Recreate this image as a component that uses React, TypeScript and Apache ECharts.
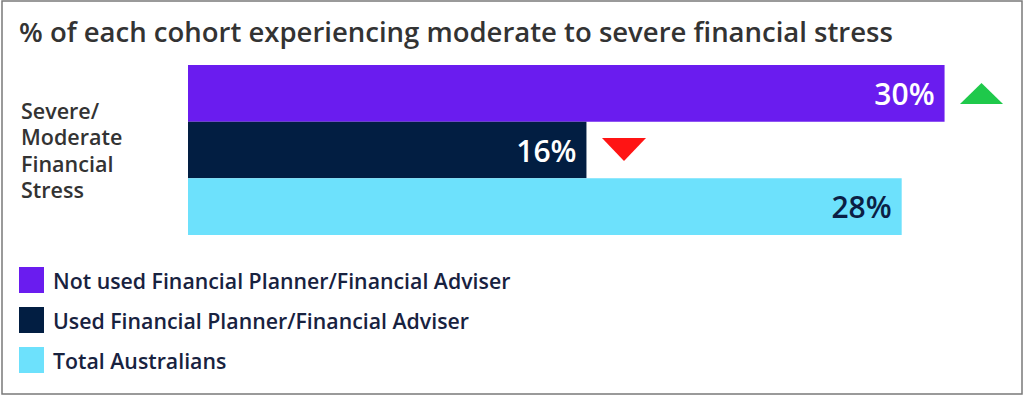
import React, { useEffect, useRef } from "react";
import * as echarts from "echarts";

const titleText = "% of each cohort experiencing moderate to severe financial stress";
const categories = ["Severe/\nModerate\nFinancial\nStress"];
const seriesNames = [
  "Not used Financial Planner/Financial Adviser",
  "Used Financial Planner/Financial Adviser",
  "Total Australians",
];
const notUsedValues = [30];
const usedValues = [15.8];
const totalValues = [28.3];

const COLORS = ["#6a1cef", "#021e42", "#6de1fc"];
const LABEL_COLORS = ["#ffffff", "#ffffff", "#0b1f45"];
const FONT = "'Open Sans', sans-serif";

export default function App() {
  const ref = useRef<HTMLDivElement>(null);
  useEffect(() => {
    if (!ref.current) return;
    const chart = echarts.init(ref.current, undefined, { renderer: "svg" });
    const values = [notUsedValues, usedValues, totalValues];
    chart.setOption({
      animation: false,
      backgroundColor: "#ffffff",
      textStyle: { fontFamily: FONT },
      title: {
        text: titleText,
        left: 19,
        top: 17,
        padding: 0,
        textStyle: { fontFamily: FONT, fontSize: 27.5, fontWeight: 600, color: "#333333" },
      },
      legend: {
        orient: "vertical",
        left: 19,
        top: 267,
        padding: 0,
        itemWidth: 25,
        itemHeight: 26,
        itemGap: 14,
        icon: "rect",
        data: seriesNames,
        textStyle: { fontFamily: FONT, fontSize: 21.3, fontWeight: 600, color: "#18223f", padding: [0, 0, 0, 4] },
      },
      grid: { left: 188, top: 65, height: 170, width: 807 },
      xAxis: { type: "value", min: 0, max: 32, show: false },
      yAxis: {
        type: "category",
        data: categories,
        inverse: true,
        axisLine: { show: false },
        axisTick: { show: false },
        axisLabel: {
          align: "left",
          margin: 167,
          fontFamily: FONT,
          fontSize: 21.5,
          fontWeight: 600,
          lineHeight: 26.5,
          color: "#333333",
        },
      },
      series: seriesNames.map((name, i) => ({
        name,
        type: "bar",
        data: values[i],
        barGap: "0%",
        barCategoryGap: "0%",
        itemStyle: { color: COLORS[i] },
        label: {
          show: true,
          position: "insideRight",
          distance: 10,
          formatter: (p: any) => Math.round(p.value) + "%",
          fontFamily: FONT,
          fontSize: 30,
          fontWeight: 600,
          color: LABEL_COLORS[i],
        },
      })),
      graphic: [
        {
          type: "rect",
          shape: { x: 2, y: 1, width: 1020, height: 393 },
          style: { fill: "none", stroke: "#7a7a7a", lineWidth: 1.5 },
        },
        {
          type: "polygon",
          shape: { points: [[960, 104], [1003, 104], [981.5, 83]] },
          style: { fill: "#1fc94b" },
        },
        {
          type: "polygon",
          shape: { points: [[602, 138], [646, 138], [624, 161]] },
          style: { fill: "#ff1414" },
        },
      ],
    });
    return () => chart.dispose();
  }, []);
  return (
    <div
      ref={ref}
      style={{ position: "fixed", left: 0, top: 0, width: 1024, height: 398 }}
    />
  );
}
